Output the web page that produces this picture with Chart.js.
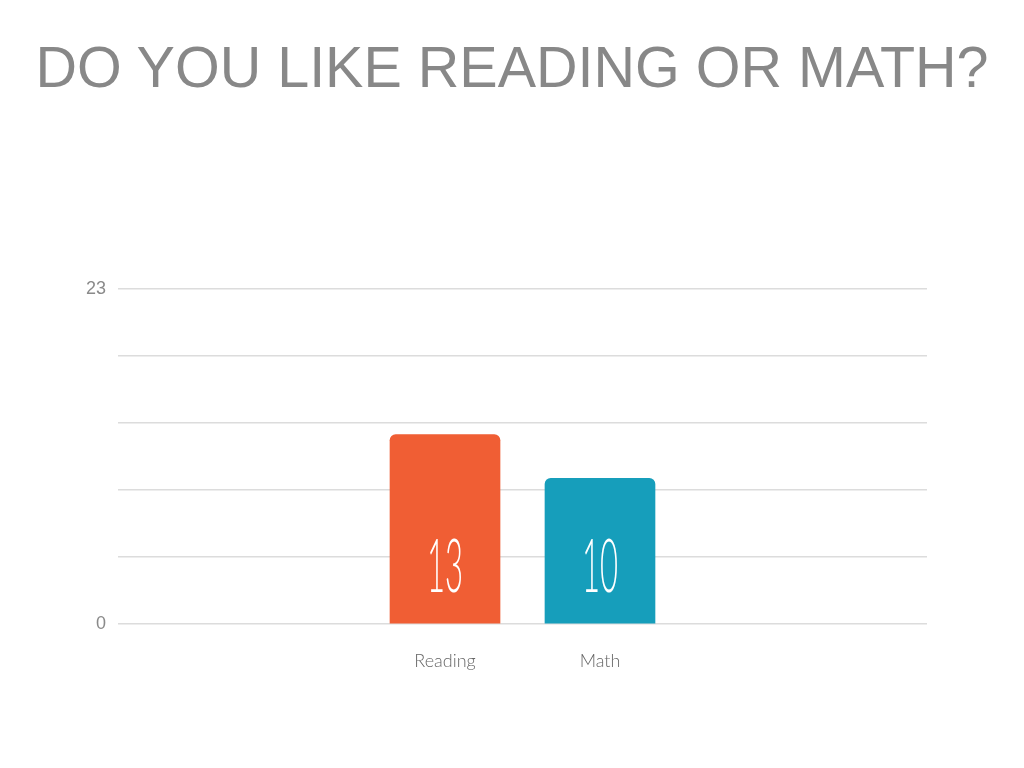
<!DOCTYPE html>
<html>
<head>
<meta charset="utf-8">
<script src="https://cdn.jsdelivr.net/npm/chart.js@4"></script>
<style>
  html, body { margin: 0; padding: 0; background: #fff; }
  #wrap { position: relative; width: 1024px; height: 768px; }
  h1 {
    position: absolute; left: 0; top: 27px; width: 1024px; margin: 0;
    text-align: center; font-family: "Liberation Sans", Arial, sans-serif;
    font-weight: normal; font-size: 57.5px; line-height: 80px; color: #888;
  }
  canvas { position: absolute; left: 0; top: 0; }
</style>
</head>
<body>
<div id="wrap">
  <h1>DO YOU LIKE READING OR MATH?</h1>
  <canvas id="chart" width="1024" height="768"></canvas>
</div>
<script>
const categories = ['Reading', 'Math'];
const votes = [13, 10];
const barColors = ['#F05E34', '#169EBB'];
const yMin = 0, yMax = 23;

// white numbers inside the bars
const valueLabels = {
  id: 'valueLabels',
  afterDatasetsDraw(chart) {
    const ctx = chart.ctx;
    const meta = chart.getDatasetMeta(0);
    meta.data.forEach((bar, i) => {
      const y = chart.scales.y.getPixelForValue(0) - 56;
      ctx.save();
      ctx.translate(bar.x, y);
      ctx.scale(0.42, 1);
      ctx.fillStyle = '#fff';
      ctx.font = '300 74px Lato, "DejaVu Sans", sans-serif';
      ctx.textAlign = 'center';
      ctx.textBaseline = 'middle';
      ctx.fillText(String(votes[i]), 0, 0);
      ctx.restore();
    });
  }
};

new Chart(document.getElementById('chart'), {
  type: 'bar',
  data: {
    datasets: [{
      data: votes.map((v, i) => ({ x: i, y: v })),
      backgroundColor: barColors,
      barThickness: 110,
      borderRadius: { topLeft: 6, topRight: 6, bottomLeft: 0, bottomRight: 0 },
      borderSkipped: 'start'
    }]
  },
  options: {
    responsive: false,
    animation: false,
    layout: { padding: { top: 289, right: 97, left: 0, bottom: 0 } },
    plugins: { legend: { display: false }, tooltip: { enabled: false } },
    scales: {
      x: {
        type: 'linear',
        offset: false,
        bounds: 'data',
        min: -2.11, max: 3.11,
        afterBuildTicks: s => { s.ticks = categories.map((c, i) => ({ value: i })); },
        afterFit: s => { s.height = 144; },
        grid: { display: false, offset: false },
        border: { display: false },
        ticks: {
          padding: 18,
          color: '#666',
          font: { family: 'Lato, "Open Sans", sans-serif', size: 18, weight: 300 },
          callback: v => categories[v]
        }
      },
      y: {
        min: yMin, max: yMax,
        afterFit: s => { s.width = 118; },
        grid: { color: '#dcdcdc', lineWidth: 1.5, drawTicks: false },
        border: { display: false },
        ticks: {
          count: 6,
          padding: 12,
          color: '#8a8a8a',
          font: { family: '"Liberation Sans", Arial, sans-serif', size: 18 },
          callback: (v, i, t) => (i === 0 || i === t.length - 1) ? Math.round(v) : ''
        }
      }
    }
  },
  plugins: [valueLabels]
});
</script>
</body>
</html>
